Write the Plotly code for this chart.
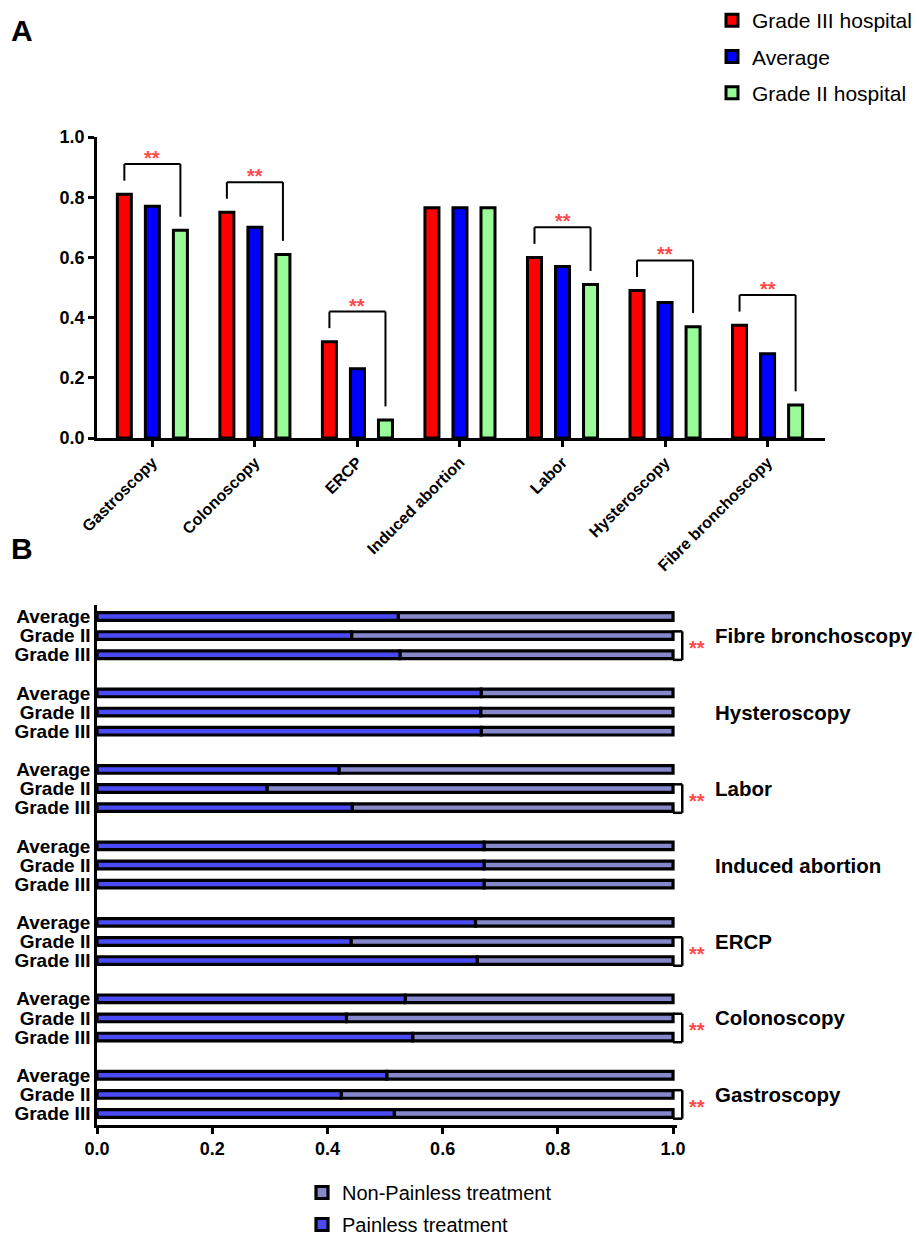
import plotly.graph_objects as go

# ---------------- Data ----------------
procedures = ["Gastroscopy", "Colonoscopy", "ERCP", "Induced abortion",
              "Labor", "Hysteroscopy", "Fibre bronchoscopy"]
grade3 = [0.81, 0.75, 0.32, 0.765, 0.60, 0.49, 0.375]
average = [0.77, 0.70, 0.23, 0.765, 0.57, 0.45, 0.28]
grade2 = [0.69, 0.61, 0.06, 0.765, 0.51, 0.37, 0.11]
sig_a = [True, True, True, False, True, True, True]

# Panel B: painless treatment proportion per procedure
painless_g3 = [0.516, 0.548, 0.660, 0.672, 0.443, 0.667, 0.526]
painless_g2 = [0.424, 0.433, 0.441, 0.672, 0.295, 0.666, 0.442]
painless_avg = [0.503, 0.535, 0.657, 0.672, 0.420, 0.667, 0.523]
sig_b = [True, True, True, False, True, False, True]
row_labels = ["Grade III", "Grade II", "Average"]
x_ticks_b = [0.0, 0.2, 0.4, 0.6, 0.8, 1.0]

FONT = "Liberation Sans, Arial, sans-serif"
W, H = 919, 1237


def px(x):  # pixel x -> paper
    return x / W


def py(y):  # pixel y -> paper
    return 1 - y / H


fig = go.Figure()

# ---------------- Panel A ----------------
series = [("Grade III hospital", grade3, "#FF0000"),
          ("Average", average, "#0000FF"),
          ("Grade II hospital", grade2, "#98FB98")]
for k, (name, vals, col) in enumerate(series):
    fig.add_trace(go.Bar(
        x=procedures, y=vals, name=name, legendgroup="a%d" % k,
        marker=dict(color=col, line=dict(color="black", width=3)),
        xaxis="x", yaxis="y", legend="legend"))

# ---------------- Panel B ----------------
ys, painless, labels = [], [], []
for g in range(len(procedures)):
    for r, vals in enumerate([painless_g3, painless_g2, painless_avg]):
        ys.append(4 * g + r)
        painless.append(vals[g])
        labels.append(row_labels[r])
nonpainless = [1 - v for v in painless]
bw = 0.40
fig.add_trace(go.Bar(
    y=ys, x=nonpainless, base=painless, orientation="h", name="Non-Painless treatment",
    width=bw, offset=-bw / 2, offsetgroup="b", legendgroup="b1",
    marker=dict(color="#8589C9", line=dict(color="black", width=3.2)),
    xaxis="x2", yaxis="y2", legend="legend2"))
fig.add_trace(go.Bar(
    y=ys, x=painless, base=[0] * len(ys), orientation="h", name="Painless treatment",
    width=bw, offset=-bw / 2, offsetgroup="b", legendgroup="b2",
    marker=dict(color="#4B4BF5", line=dict(color="black", width=3.2)),
    xaxis="x2", yaxis="y2", legend="legend2"))

# ---------------- Axes geometry ----------------
xa_dom = [px(97), px(825)]
ya_dom = [py(438), py(137)]
xb_rng = [0, 1.006]
yb_rng = [-0.6, 26.6]
xb_dom = [px(97), px(676.5)]
yb_dom = [py(1125), py(605)]


def bx(v):  # panel B data x -> paper
    return xb_dom[0] + (v - xb_rng[0]) / (xb_rng[1] - xb_rng[0]) * (xb_dom[1] - xb_dom[0])


def by(v):  # panel B data y -> paper
    return yb_dom[0] + (v - yb_rng[0]) / (yb_rng[1] - yb_rng[0]) * (yb_dom[1] - yb_dom[0])


bargap = 0.18
slot = (1 - bargap) / 3
shapes, annots = [], []

for i, p in enumerate(procedures):
    if not sig_a[i]:
        continue
    xl, xr = i - slot, i + slot
    top = max(grade3[i], average[i], grade2[i]) + 0.10
    yl = grade3[i] + 0.045
    yr = grade2[i] + 0.045
    for (x0, y0, x1, y1) in [(xl, yl, xl, top), (xl, top, xr, top), (xr, top, xr, yr)]:
        shapes.append(dict(type="line", xref="x", yref="y", x0=x0, y0=y0, x1=x1, y1=y1,
                           line=dict(color="black", width=2)))
    annots.append(dict(x=i, y=top, xref="x", yref="y", text="<b>**</b>", showarrow=False,
                       yanchor="bottom", yshift=-7,
                       font=dict(family=FONT, size=20, color="#FF4A4A")))

for g, p in enumerate(procedures):
    annots.append(dict(x=bx(1.07), y=by(4 * g + 1), xref="paper", yref="paper",
                       text="<b>%s</b>" % p, showarrow=False, xanchor="left",
                       yanchor="middle", font=dict(family=FONT, size=20.5, color="black")))
    if not sig_b[g]:
        continue
    yb, yt = 4 * g - 0.27, 4 * g + 1 + 0.22
    xe = 1.016
    for (x0, y0, x1, y1) in [(1.0, yt, xe, yt), (xe, yt, xe, yb), (xe, yb, 1.0, yb)]:
        shapes.append(dict(type="line", xref="paper", yref="paper",
                           x0=bx(x0), y0=by(y0), x1=bx(x1), y1=by(y1),
                           line=dict(color="black", width=2.5)))
    annots.append(dict(x=bx(1.041), y=by(4 * g + 0.35), xref="paper", yref="paper",
                       text="<b>**</b>", showarrow=False, xanchor="center",
                       yanchor="middle", font=dict(family=FONT, size=20, color="#FF4A4A")))

annots.append(dict(x=px(22), y=py(30), xref="paper", yref="paper", text="<b>A</b>",
                   showarrow=False, xanchor="center", yanchor="middle",
                   font=dict(family=FONT, size=30, color="black")))
annots.append(dict(x=px(22), y=py(548), xref="paper", yref="paper", text="<b>B</b>",
                   showarrow=False, xanchor="center", yanchor="middle",
                   font=dict(family=FONT, size=30, color="black")))

axis_common = dict(showline=True, linecolor="black", linewidth=2.5, ticks="outside",
                   tickcolor="black", tickwidth=2.5, ticklen=6, showgrid=False,
                   zeroline=False, automargin=False)

fig.update_layout(
    width=W, height=H, margin=dict(l=0, r=0, t=0, b=0, autoexpand=False),
    plot_bgcolor="white", paper_bgcolor="white",
    font=dict(family=FONT, color="black"),
    barmode="group", bargap=bargap, bargroupgap=0.5,
    shapes=shapes, annotations=annots,
    xaxis=dict(domain=xa_dom, anchor="y", range=[-0.54, 6.56],
               tickangle=-45, tickfont=dict(family=FONT, size=16, weight="bold"),
               **axis_common),
    yaxis=dict(domain=ya_dom, anchor="x", range=[0, 1.0],
               tickvals=[0, 0.2, 0.4, 0.6, 0.8, 1.0], tickformat=".1f",
               tickfont=dict(family=FONT, size=18, weight="bold"), **axis_common),
    xaxis2=dict(domain=xb_dom, anchor="y2", range=xb_rng,
                tickvals=x_ticks_b, tickformat=".1f",
                tickfont=dict(family=FONT, size=18, weight="bold"), **axis_common),
    yaxis2=dict(domain=yb_dom, anchor="x2", range=yb_rng,
                tickvals=ys, ticktext=labels, ticks="", showline=True, linecolor="black",
                linewidth=2.5, showgrid=False, zeroline=False, automargin=False,
                tickfont=dict(family=FONT, size=19, weight="bold")),
    legend=dict(x=px(712), y=1.0, xanchor="left", yanchor="top",
                traceorder="grouped", tracegroupgap=6,
                font=dict(family=FONT, size=21), bgcolor="rgba(0,0,0,0)"),
    legend2=dict(x=px(302), y=-7 / H, xanchor="left", yanchor="bottom",
                 traceorder="grouped", tracegroupgap=3,
                 font=dict(family=FONT, size=20), bgcolor="rgba(0,0,0,0)"),
    showlegend=True,
)

fig.write_html("out.html", config={"displayModeBar": False},
               post_script="document.body.style.margin='0px';")
